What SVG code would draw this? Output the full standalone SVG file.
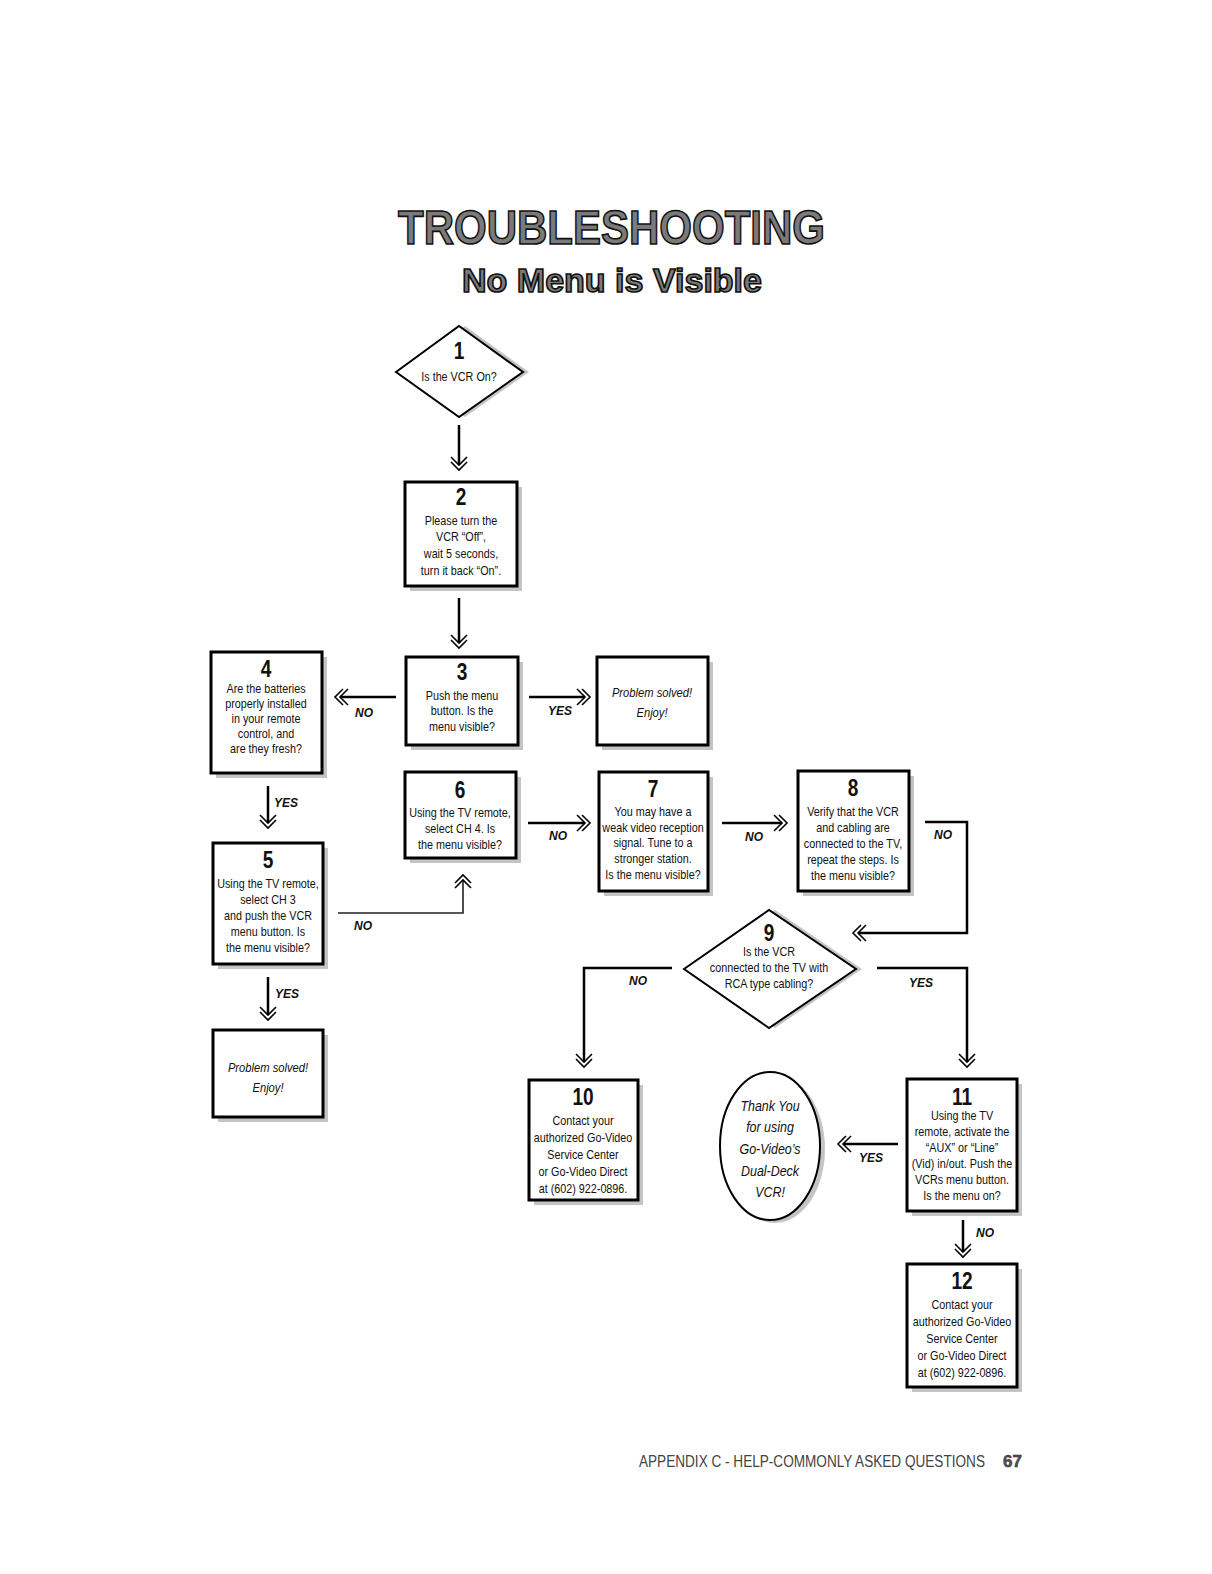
<svg xmlns="http://www.w3.org/2000/svg" width="1212" height="1574" viewBox="0 0 1212 1574">
<style>
.t{font-family:"Liberation Sans",Arial,sans-serif;font-size:13px;text-anchor:middle;fill:#111}
.n{font-family:"Liberation Sans",Arial,sans-serif;font-size:23px;font-weight:bold;text-anchor:middle;fill:#111}
.i{font-family:"Liberation Sans",Arial,sans-serif;font-size:13.5px;font-style:italic;text-anchor:middle;fill:#111}
.ty{font-family:"Liberation Sans",Arial,sans-serif;font-size:15px;font-style:italic;text-anchor:middle;fill:#111}
.lb{font-family:"Liberation Sans",Arial,sans-serif;font-size:12px;font-weight:bold;font-style:italic;text-anchor:middle;fill:#111}
.box{fill:#fff;stroke:#000;stroke-width:3}
.sh{fill:#c4c4c4}
.con{fill:none;stroke:#000;stroke-width:2.5}
.thin{fill:none;stroke:#222;stroke-width:1.6}
.ttl{font-family:"Liberation Sans",Arial,sans-serif;font-weight:bold;fill:#7a7a7a;stroke:#111;stroke-width:1.6}
</style>
<defs>
<marker id="dh" markerUnits="userSpaceOnUse" markerWidth="30" markerHeight="30" refX="0" refY="0" viewBox="-15 -15 30 30" orient="auto" overflow="visible">
<path d="M-8,-8 L0,0 L-8,8 M-3,-8 L5,0 L-3,8" fill="none" stroke="#000" stroke-width="1.6"/>
</marker>
</defs>
<rect width="1212" height="1574" fill="#fff"/>

<g id="title">
<text class="ttl" x="398" y="244" font-size="48" textLength="427" lengthAdjust="spacingAndGlyphs">TROUBLESHOOTING</text>
<text class="ttl" x="462" y="292" font-size="33" textLength="300" lengthAdjust="spacingAndGlyphs" stroke-width="1.1">No Menu is Visible</text>
</g>

<g id="connectors">
<path class="con" d="M459,425 V465" marker-end="url(#dh)"/>
<path class="con" d="M459,598 V643" marker-end="url(#dh)"/>
<path class="con" d="M396,697 H340" marker-end="url(#dh)"/>
<path class="con" d="M529,697 H585" marker-end="url(#dh)"/>
<path class="con" d="M528,823 H585" marker-end="url(#dh)"/>
<path class="con" d="M722,823 H782" marker-end="url(#dh)"/>
<path class="con" d="M925,822 H967 V933 H858" marker-end="url(#dh)"/>
<path class="con" d="M268,786 V823" marker-end="url(#dh)"/>
<path class="thin" d="M338,913 H463 V880" marker-end="url(#dh)"/>
<path class="con" d="M268,977 V1015" marker-end="url(#dh)"/>
<path class="con" d="M672,968 H584 V1062" marker-end="url(#dh)"/>
<path class="con" d="M877,968 H967 V1062" marker-end="url(#dh)"/>
<path class="con" d="M898,1144 H843" marker-end="url(#dh)"/>
<path class="con" d="M963,1220 V1252" marker-end="url(#dh)"/>
<text class="lb" x="364" y="717">NO</text>
<text class="lb" x="560" y="715">YES</text>
<text class="lb" x="558" y="840">NO</text>
<text class="lb" x="754" y="841">NO</text>
<text class="lb" x="943" y="839">NO</text>
<text class="lb" x="286" y="807">YES</text>
<text class="lb" x="363" y="930">NO</text>
<text class="lb" x="287" y="998">YES</text>
<text class="lb" x="638" y="985">NO</text>
<text class="lb" x="921" y="987">YES</text>
<text class="lb" x="871" y="1162">YES</text>
<text class="lb" x="985" y="1237">NO</text>
</g>

<g id="node1">
<polygon class="sh" points="402,372 465,326 529,372 465,417"/>
<polygon points="396,372 459,326 523,372 459,417" fill="#fff" stroke="#000" stroke-width="2"/>
<g transform="translate(459 0) scale(0.83 1)">
<text class="n" x="0" y="359">1</text>
<text class="t" x="0" y="381" font-size="14">Is the VCR On?</text>
</g>
</g>

<g id="node2">
<rect class="sh" x="410" y="487" width="112" height="104"/>
<rect class="box" x="405" y="482" width="112" height="104"/>
<g transform="translate(461 0) scale(0.83 1)">
<text class="n" x="0" y="505">2</text>
<text class="t" x="0" y="525">Please turn the</text>
<text class="t" x="0" y="541">VCR “Off”,</text>
<text class="t" x="0" y="558">wait 5 seconds,</text>
<text class="t" x="0" y="575">turn it back “On”.</text>
</g>
</g>

<g id="node3">
<rect class="sh" x="411" y="662" width="112" height="88"/>
<rect class="box" x="406" y="657" width="112" height="88"/>
<g transform="translate(462 0) scale(0.83 1)">
<text class="n" x="0" y="680">3</text>
<text class="t" x="0" y="700">Push the menu</text>
<text class="t" x="0" y="715">button. Is the</text>
<text class="t" x="0" y="731">menu visible?</text>
</g>
</g>

<g id="node4">
<rect class="sh" x="216" y="657" width="111" height="121"/>
<rect class="box" x="211" y="652" width="111" height="121"/>
<g transform="translate(266 0) scale(0.83 1)">
<text class="n" x="0" y="677">4</text>
<text class="t" x="0" y="693">Are the batteries</text>
<text class="t" x="0" y="708">properly installed</text>
<text class="t" x="0" y="723">in your remote</text>
<text class="t" x="0" y="738">control, and</text>
<text class="t" x="0" y="753">are they fresh?</text>
</g>
</g>

<g id="solved1">
<rect class="sh" x="602" y="662" width="111" height="88"/>
<rect class="box" x="597" y="657" width="111" height="88"/>
<g transform="translate(652 0) scale(0.83 1)">
<text class="i" x="0" y="697">Problem solved!</text>
<text class="i" x="0" y="717">Enjoy!</text>
</g>
</g>

<g id="node6">
<rect class="sh" x="410" y="777" width="111" height="86"/>
<rect class="box" x="405" y="772" width="111" height="86"/>
<g transform="translate(460 0) scale(0.83 1)">
<text class="n" x="0" y="798">6</text>
<text class="t" x="0" y="817">Using the TV remote,</text>
<text class="t" x="0" y="833">select CH 4. Is</text>
<text class="t" x="0" y="849">the menu visible?</text>
</g>
</g>

<g id="node7">
<rect class="sh" x="604" y="777" width="109" height="119"/>
<rect class="box" x="599" y="772" width="109" height="119"/>
<g transform="translate(653 0) scale(0.83 1)">
<text class="n" x="0" y="797">7</text>
<text class="t" x="0" y="816">You may have a</text>
<text class="t" x="0" y="832">weak video reception</text>
<text class="t" x="0" y="847">signal. Tune to a</text>
<text class="t" x="0" y="863">stronger station.</text>
<text class="t" x="0" y="879">Is the menu visible?</text>
</g>
</g>

<g id="node8">
<rect class="sh" x="803" y="776" width="111" height="120"/>
<rect class="box" x="798" y="771" width="111" height="120"/>
<g transform="translate(853 0) scale(0.83 1)">
<text class="n" x="0" y="796">8</text>
<text class="t" x="0" y="816">Verify that the VCR</text>
<text class="t" x="0" y="832">and cabling are</text>
<text class="t" x="0" y="848">connected to the TV,</text>
<text class="t" x="0" y="864">repeat the steps. Is</text>
<text class="t" x="0" y="880">the menu visible?</text>
</g>
</g>

<g id="node5">
<rect class="sh" x="218" y="848" width="110" height="121"/>
<rect class="box" x="213" y="843" width="110" height="121"/>
<g transform="translate(268 0) scale(0.83 1)">
<text class="n" x="0" y="868">5</text>
<text class="t" x="0" y="888">Using the TV remote,</text>
<text class="t" x="0" y="904">select CH 3</text>
<text class="t" x="0" y="920">and push the VCR</text>
<text class="t" x="0" y="936">menu button. Is</text>
<text class="t" x="0" y="952">the menu visible?</text>
</g>
</g>

<g id="solved2">
<rect class="sh" x="218" y="1035" width="110" height="87"/>
<rect class="box" x="213" y="1030" width="110" height="87"/>
<g transform="translate(268 0) scale(0.83 1)">
<text class="i" x="0" y="1072">Problem solved!</text>
<text class="i" x="0" y="1092">Enjoy!</text>
</g>
</g>

<g id="node9">
<polygon class="sh" points="690,969 775,910 862,969 775,1028"/>
<polygon points="684,969 769,910 856,969 769,1028" fill="#fff" stroke="#000" stroke-width="2"/>
<g transform="translate(769 0) scale(0.83 1)">
<text class="n" x="0" y="941">9</text>
<text class="t" x="0" y="956">Is the VCR</text>
<text class="t" x="0" y="972">connected to the TV with</text>
<text class="t" x="0" y="988">RCA type cabling?</text>
</g>
</g>

<g id="node10">
<rect class="sh" x="534" y="1085" width="109" height="120"/>
<rect class="box" x="529" y="1080" width="109" height="120"/>
<g transform="translate(583 0) scale(0.83 1)">
<text class="n" x="0" y="1105">10</text>
<text class="t" x="0" y="1125">Contact your</text>
<text class="t" x="0" y="1142">authorized Go-Video</text>
<text class="t" x="0" y="1159">Service Center</text>
<text class="t" x="0" y="1176">or Go-Video Direct</text>
<text class="t" x="0" y="1193">at (602) 922-0896.</text>
</g>
</g>

<g id="thankyou">
<ellipse class="sh" cx="775" cy="1149" rx="50" ry="74"/>
<ellipse cx="770" cy="1146" rx="50" ry="74" fill="#fff" stroke="#000" stroke-width="2"/>
<g transform="translate(770 0) scale(0.83 1)">
<text class="ty" x="0" y="1111">Thank You</text>
<text class="ty" x="0" y="1132">for using</text>
<text class="ty" x="0" y="1154">Go-Video’s</text>
<text class="ty" x="0" y="1176">Dual-Deck</text>
<text class="ty" x="0" y="1197">VCR!</text>
</g>
</g>

<g id="node11">
<rect class="sh" x="912" y="1084" width="110" height="132"/>
<rect class="box" x="907" y="1079" width="110" height="132"/>
<g transform="translate(962 0) scale(0.83 1)">
<text class="n" x="0" y="1105">11</text>
<text class="t" x="0" y="1120">Using the TV</text>
<text class="t" x="0" y="1136">remote, activate the</text>
<text class="t" x="0" y="1152">“AUX” or “Line”</text>
<text class="t" x="0" y="1168">(Vid) in/out. Push the</text>
<text class="t" x="0" y="1184">VCRs menu button.</text>
<text class="t" x="0" y="1200">Is the menu on?</text>
</g>
</g>

<g id="node12">
<rect class="sh" x="912" y="1269" width="110" height="123"/>
<rect class="box" x="907" y="1264" width="110" height="123"/>
<g transform="translate(962 0) scale(0.83 1)">
<text class="n" x="0" y="1289">12</text>
<text class="t" x="0" y="1309">Contact your</text>
<text class="t" x="0" y="1326">authorized Go-Video</text>
<text class="t" x="0" y="1343">Service Center</text>
<text class="t" x="0" y="1360">or Go-Video Direct</text>
<text class="t" x="0" y="1377">at (602) 922-0896.</text>
</g>
</g>

<g id="footer">
<g transform="translate(639 0) scale(0.8 1)">
<text x="0" y="1467" font-family="Liberation Sans, Arial, sans-serif" font-size="17" fill="#444">APPENDIX C - HELP-COMMONLY ASKED QUESTIONS</text>
</g>
<text x="1003" y="1467" font-family="Liberation Sans, Arial, sans-serif" font-size="17" font-weight="bold" fill="#555" stroke="#222" stroke-width="0.5">67</text>
</g>
</svg>
